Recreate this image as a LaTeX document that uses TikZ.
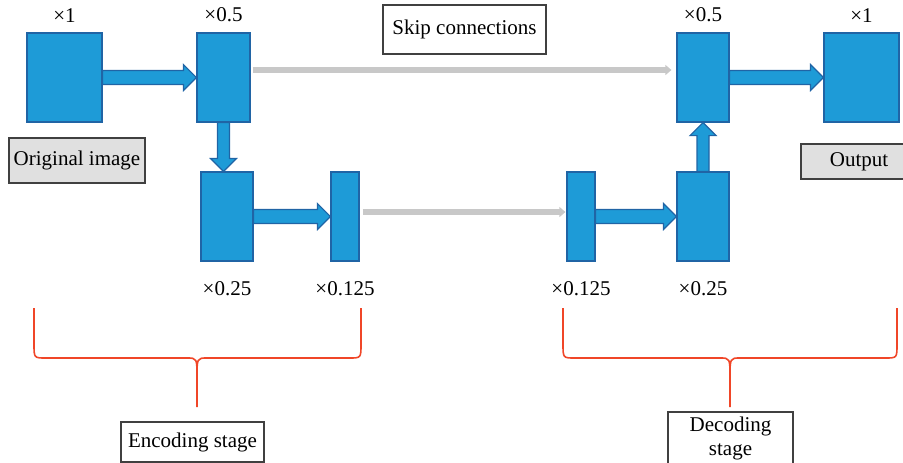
\documentclass[tikz,border=0pt]{standalone}
\usepackage{fontspec}
\setmainfont{Liberation Serif}
\usetikzlibrary{calc,arrows.meta}
\definecolor{featblue}{RGB}{30,155,215}
\definecolor{featedge}{RGB}{32,100,165}
\definecolor{skipgray}{RGB}{200,200,200}
\definecolor{bracered}{RGB}{240,70,40}
\definecolor{tagfill}{RGB}{224,224,224}
% thick block arrows, horizontal and vertical
\newcommand{\harrow}[2]{%
\draw[fat] let \p1=(#1), \p2=(#2) in
(\x1,\y1+3.5pt) -- (\x2-6.5pt,\y1+3.5pt) -- (\x2-6.5pt,\y1+6.5pt) -- (\x2,\y1)
-- (\x2-6.5pt,\y1-6.5pt) -- (\x2-6.5pt,\y1-3.5pt) -- (\x1,\y1-3.5pt) -- cycle;}
\newcommand{\varrow}[2]{%
\draw[fat] let \p1=(#1), \p2=(#2), \n1={sign(\y2-\y1)} in
(\x1-3pt,\y1) -- (\x1-3pt,{\y2-\n1*6.5pt}) -- (\x1-6.5pt,{\y2-\n1*6.5pt}) -- (\x1,\y2)
-- (\x1+6.5pt,{\y2-\n1*6.5pt}) -- (\x1+3pt,{\y2-\n1*6.5pt}) -- (\x1+3pt,\y1) -- cycle;}
% red stage brace: left x, middle x, right x
\newcommand{\stagebrace}[3]{%
\draw[brace] (#1,308) -- (#1,344) .. controls (#1,358) .. ({#1+12},358) -- ({#2-10},358)
.. controls (#2,358) .. (#2,378) -- (#2,407)
(#2,378) .. controls (#2,358) .. ({#2+10},358) -- ({#3-12},358)
.. controls (#3,358) .. (#3,344) -- (#3,308);}
\begin{document}
\begin{tikzpicture}
[x=0.5pt,y=-0.5pt,
font=\fontsize{10.5}{12}\selectfont,
feat/.style={draw=featedge,fill=featblue,line width=0.6pt,minimum height=44.5pt,inner sep=0pt},
fat/.style={draw=featedge,fill=featblue,line width=0.6pt,line join=miter},
skip/.style={draw=skipgray,line width=2.6pt,-{Triangle[length=3pt,width=5pt]}},
brace/.style={draw=bracered,line width=0.8pt},
tag/.style={draw=black!75,fill=tagfill,line width=0.6pt,inner sep=0pt},
note/.style={draw=black!75,fill=white,line width=0.6pt,inner sep=0pt,align=center},
up/.style={label={[inner sep=0pt,label distance=5pt]above:#1}},
down/.style={label={[inner sep=0pt,label distance=10pt]below:#1}}
]
\useasboundingbox (0,0) rectangle (903,462);
% encoder
\node[feat,minimum width=37.5pt,up={×1}] (in) at (64.5,77.5) {};
\node[feat,minimum width=26.5pt,up={×0.5}] (enc1) at (223.5,77.5) {};
\node[feat,minimum width=26pt,down={×0.25}] (enc2) at (227,216.5) {};
\node[feat,minimum width=14pt,down={×0.125}] (enc3) at (345,216.5) {};
% decoder
\node[feat,minimum width=14pt,down={×0.125}] (dec3) at (581,216.5) {};
\node[feat,minimum width=26pt,down={×0.25}] (dec2) at (703,216.5) {};
\node[feat,minimum width=26pt,up={×0.5}] (dec1) at (703,77.5) {};
\node[feat,minimum width=37.5pt,up={×1}] (out) at (861.5,77.5) {};
% text boxes
\node[tag,minimum width=68pt,minimum height=22.5pt] (orig) at (77,160.5) {Original image};
\node[tag,minimum width=58pt,minimum height=17.5pt] (outtag) at (859,161.5) {Output};
\node[note,minimum width=81.5pt,minimum height=24.5pt] (skiptag) at (464.5,29.5) {Skip connections};
\node[note,minimum width=71.5pt,minimum height=20pt] (enctag) at (192.5,442) {Encoding stage};
\node[note,minimum width=62.5pt,minimum height=26pt] (dectag) at (730.5,438) {Decoding\\stage};
% block arrows
\harrow{in.east}{enc1.west}
\varrow{enc1.south}{enc2.north}
\harrow{enc2.east}{enc3.west}
\harrow{dec3.east}{dec2.west}
\varrow{dec2.north}{dec1.south}
\harrow{dec1.east}{out.west}
% skip connections
\draw[skip] ($(enc1.east)+(2,-7.5)$) -- ($(dec1.west)+(-5,-7.5)$);
\draw[skip] ($(enc3.east)+(3,-4.5)$) -- ($(dec3.west)+(-1,-4.5)$);
% stages
\stagebrace{34}{197}{361}
\stagebrace{563}{730}{897}
\end{tikzpicture}
\end{document}
